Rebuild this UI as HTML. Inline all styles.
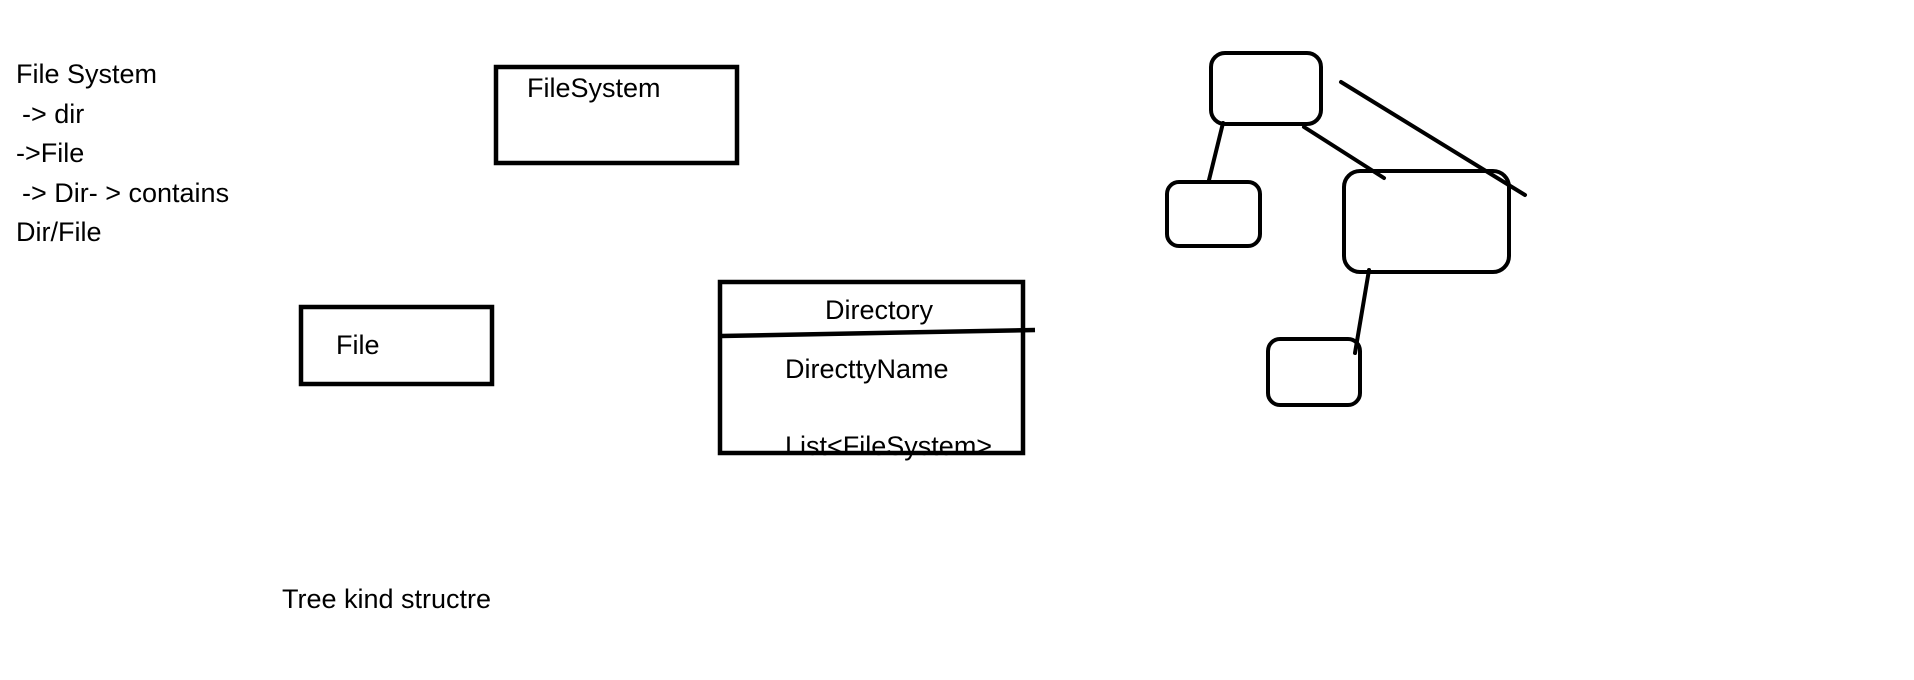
<!DOCTYPE html>
<html><head><style>
html,body{margin:0;padding:0;background:#fff;}
svg{display:block;}
text{font-family:"Liberation Sans",sans-serif;font-size:27px;fill:#000;}
</style></head><body>
<svg width="1914" height="680" viewBox="0 0 1914 680" xmlns="http://www.w3.org/2000/svg">
<rect width="1914" height="680" fill="#fff"/>
<text x="16" y="83">File System</text>
<text x="22" y="123">-&gt; dir</text>
<text x="16" y="162">-&gt;File</text>
<text x="22" y="202">-&gt; Dir- &gt; contains</text>
<text x="16" y="241">Dir/File</text>

<g fill="none" stroke="#000" stroke-width="4.5">
<rect x="496" y="67" width="241" height="96"/>
<rect x="301" y="307" width="191" height="77"/>
<rect x="720" y="282" width="303" height="171"/>
<line x1="721" y1="336" x2="1035" y2="330"/>
</g>
<text x="527" y="97">FileSystem</text>
<text x="336" y="354">File</text>
<text x="825" y="319">Directory</text>
<text x="785" y="378">DirecttyName</text>
<text x="785" y="455">List&lt;FileSystem&gt;</text>
<text x="282" y="608">Tree kind structre</text>

<g fill="none" stroke="#000" stroke-width="4" stroke-linecap="round">
<rect x="1211" y="53" width="110" height="71" rx="14"/>
<rect x="1167" y="182" width="93" height="64" rx="12"/>
<rect x="1344" y="171" width="165" height="101" rx="16"/>
<rect x="1268" y="339" width="92" height="66" rx="12"/>
<line x1="1223" y1="123" x2="1209" y2="180"/>
<line x1="1304" y1="127" x2="1384" y2="178"/>
<line x1="1341" y1="82" x2="1525" y2="195"/>
<line x1="1369" y1="270" x2="1355" y2="353"/>
</g>
</svg>
</body></html>
